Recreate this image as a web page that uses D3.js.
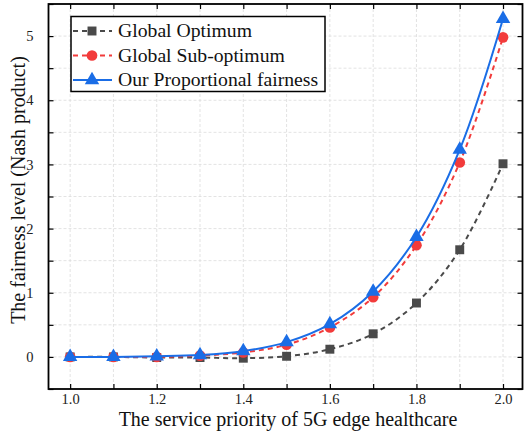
<!DOCTYPE html>
<html><head><meta charset="utf-8">
<script src="https://cdn.jsdelivr.net/npm/d3@7"></script>
<style>body{margin:0;background:#fff}svg{display:block}</style>
</head><body>
<script>
const xValues = [1.0,1.1,1.2,1.3,1.4,1.5,1.6,1.7,1.8,1.9,2.0];
const globalOptimum = [0,0,-0.01,-0.01,-0.02,0.01,0.12,0.36,0.84,1.67,3.01];
const globalSubOptimum = [0,0,0,0.02,0.07,0.19,0.46,0.93,1.74,3.03,4.98];
const proportionalFairness = [0,0,0.01,0.03,0.09,0.23,0.51,1.02,1.87,3.23,5.27];
const seriesNames = ["Global Optimum","Global Sub-optimum","Our Proportional fairness"];
const xTickLabels = [1.0,1.2,1.4,1.6,1.8,2.0];
const yTickLabels = [0,1,2,3,4,5];

const W=524,H=432;
const svg=d3.select("body").append("svg").attr("width",W).attr("height",H);
const L=48.5,R=522.5,T=4,B=389;
const x=d3.scaleLinear().domain([0.95,2.045]).range([L,R]);
const y=d3.scaleLinear().domain([-0.5,5.5]).range([B,T]);
const font="'Liberation Serif','Times New Roman',serif";

// grid
const xGrid=d3.range(1.0,2.001,0.1), yGrid=d3.range(-0.5,5.51,0.5);
svg.append("g").selectAll("line").data(xGrid).join("line")
 .attr("x1",d=>x(d)).attr("x2",d=>x(d)).attr("y1",T).attr("y2",B)
 .attr("stroke","#dcdcdc").attr("stroke-width",0.8).attr("stroke-dasharray","3,2");
svg.append("g").selectAll("line").data(yGrid).join("line")
 .attr("y1",d=>y(d)).attr("y2",d=>y(d)).attr("x1",L).attr("x2",R)
 .attr("stroke","#dcdcdc").attr("stroke-width",0.8).attr("stroke-dasharray","3,2");

// axes
const tl=5;
const bx=d3.axisBottom(x).tickValues(xGrid).tickSize(-tl).tickPadding(5)
 .tickFormat(d=>xTickLabels.some(v=>Math.abs(v-d)<1e-6)?d3.format(".1f")(d):"");
const gB=svg.append("g").attr("transform",`translate(0,${B})`).call(bx);
const tx=d3.axisTop(x).tickValues(xGrid).tickSize(-tl).tickFormat("");
const gT=svg.append("g").attr("transform",`translate(0,${T})`).call(tx);
const ly=d3.axisLeft(y).tickValues(yGrid).tickSize(-tl).tickPadding(15)
 .tickFormat(d=>yTickLabels.some(v=>Math.abs(v-d)<1e-6)?d3.format("d")(d):"");
const gL=svg.append("g").attr("transform",`translate(${L},0)`).call(ly);
const ry=d3.axisRight(y).tickValues(yGrid).tickSize(-tl).tickFormat("");
const gR=svg.append("g").attr("transform",`translate(${R},0)`).call(ry);
[gB,gT,gL,gR].forEach(g=>{
  g.select(".domain").remove();
  g.selectAll(".tick line").attr("stroke","#000").attr("stroke-width",1.2);
  g.selectAll("text").attr("font-family",font).attr("font-size",14.5).attr("fill","#222");
});
svg.append("rect").attr("x",L).attr("y",T).attr("width",R-L).attr("height",B-T)
 .attr("fill","none").attr("stroke","#000").attr("stroke-width",1.8);

// titles
svg.append("text").attr("x",288).attr("y",426).attr("text-anchor","middle")
 .attr("font-family",font).attr("font-size",20).attr("fill","#111")
 .text("The service priority of 5G edge healthcare");
svg.append("text").attr("transform",`translate(25,190) rotate(-90)`).attr("text-anchor","middle")
 .attr("font-family",font).attr("font-size",20).attr("fill","#111")
 .text("The fairness level (Nash product)");

const series=[
 {name:seriesNames[0],vals:globalOptimum,color:"#4a4a4a",dash:"5,4",shape:d3.symbolSquare,size:80},
 {name:seriesNames[1],vals:globalSubOptimum,color:"#f23b3b",dash:"5,4",shape:d3.symbolCircle,size:90},
 {name:seriesNames[2],vals:proportionalFairness,color:"#1a6de6",dash:null,shape:d3.symbolTriangle,size:90}
];
const line=d3.line().x(d=>x(d[0])).y(d=>y(d[1])).curve(d3.curveCatmullRom.alpha(0.5));
series.forEach(s=>{
  const pts=xValues.map((v,i)=>[v,s.vals[i]]);
  svg.append("path").attr("d",line(pts)).attr("fill","none").attr("stroke",s.color)
   .attr("stroke-width",2).attr("stroke-dasharray",s.dash);
  svg.append("g").selectAll("path").data(pts).join("path")
   .attr("transform",d=>`translate(${x(d[0])},${y(d[1])})`)
   .attr("d",d3.symbol().type(s.shape).size(s.size)).attr("fill",s.color);
});

// legend
const lg=svg.append("g");
lg.append("rect").attr("x",71).attr("y",16.5).attr("width",254).attr("height",75)
 .attr("fill","#fff").attr("stroke","#000").attr("stroke-width",1.5);
series.forEach((s,i)=>{
  const cy=31+i*24.5;
  lg.append("line").attr("x1",73).attr("x2",112).attr("y1",cy).attr("y2",cy)
   .attr("stroke",s.color).attr("stroke-width",2).attr("stroke-dasharray",s.dash);
  lg.append("path").attr("transform",`translate(92,${cy})`)
   .attr("d",d3.symbol().type(s.shape).size(s.size)).attr("fill",s.color);
  lg.append("text").attr("x",118).attr("y",cy+6).attr("font-family",font).attr("font-size",19.7)
   .attr("fill","#111").text(s.name);
});
</script>
</body></html>
